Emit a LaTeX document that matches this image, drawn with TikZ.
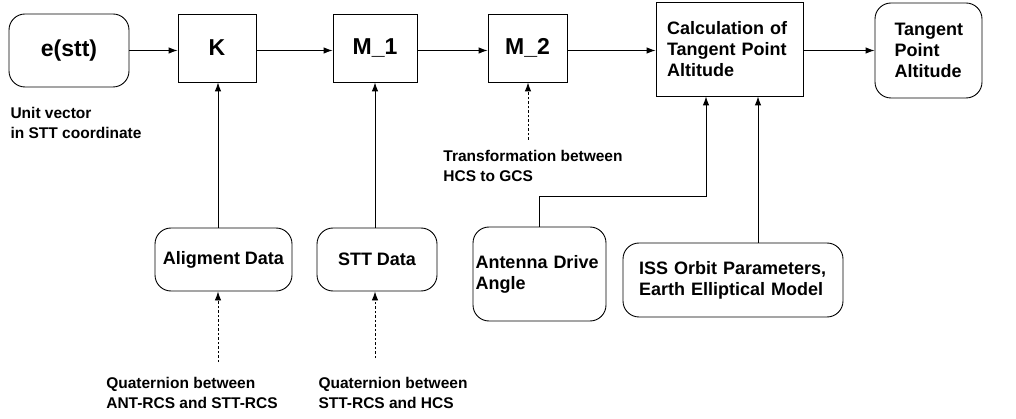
\documentclass[tikz,border=0pt]{standalone}
\usepackage{fontspec}
\setmainfont{Liberation Sans}
\usetikzlibrary{arrows.meta,calc}

\tikzset{
 blk/.style={draw,line width=0.9pt,inner sep=0pt,font=\fontsize{18}{21}\selectfont\bfseries},
 bigblk/.style={blk,font=\fontsize{23}{26}\selectfont\bfseries},
 rnd/.style={rounded corners=16pt},
 lbl/.style={align=left,inner sep=0pt,font=\fontsize{15.5}{20}\selectfont\bfseries},
 arr/.style={line width=0.9pt,-{Latex[length=9pt,width=6.5pt]}},
 darr/.style={arr,dash pattern=on 2.5pt off 2pt},
}

\begin{document}
\begin{tikzpicture}[x=1pt,y=-1pt]
 \useasboundingbox (0,0) rectangle (1016,419);
 % main chain
 \node[bigblk,rnd,minimum width=120pt,minimum height=73pt] (estt) at (69,50.5) {e(stt)};
 \node[bigblk,minimum width=78pt,minimum height=68pt] (k) at (217,48) {K};
 \node[bigblk,minimum width=84pt,minimum height=68pt] (m1) at (375,48) {M\_1};
 \node[bigblk,minimum width=79pt,minimum height=68pt] (m2) at (527.5,48) {M\_2};
 \node[blk,minimum width=147pt,minimum height=94pt,text width=125pt,align=left] (calc) at (729.5,49)
  {Calculation of\\Tangent Point\\Altitude};
 \node[blk,rnd,minimum width=107pt,minimum height=95pt,text width=68pt,align=left] (tpa) at (928.5,50.5)
  {Tangent\\Point\\Altitude};
 % inputs
 \node[blk,rnd,minimum width=137pt,minimum height=63pt] (ad) at (223.5,259.5) {Aligment Data};
 \node[blk,rnd,minimum width=120pt,minimum height=63pt] (sd) at (377,259.5) {STT Data};
 \node[blk,rnd,minimum width=133pt,minimum height=94pt,text width=128pt,align=left] (ant) at (539.5,274)
  {Antenna Drive\\Angle};
 \node[blk,rnd,minimum width=220pt,minimum height=74pt,text width=188pt,align=left] (iss) at (733,280)
  {ISS Orbit Parameters,\\Earth Elliptical Model};
 % labels
 \node[lbl] (uv) at (76,123) {Unit vector\\in STT coordinate};
 \node[lbl] (tr) at (533,166) {Transformation between\\HCS to GCS};
 \node[lbl] (qa) at (192,393) {Quaternion between\\ANT-RCS and STT-RCS};
 \node[lbl] (qs) at (393,393) {Quaternion between\\STT-RCS and HCS};
 \coordinate (qa-top) at (218,362);
 \coordinate (qs-top) at (375,358);
 \coordinate (tr-top) at (528,140);
 \coordinate (in1) at ([xshift=-23.5pt]calc.south);
 \coordinate (in2) at ([xshift=28.5pt]calc.south);

 \draw[arr] (estt.east) -- (estt.east -| k.west);
 \draw[arr] (k.east |- estt.east) -- (estt.east -| m1.west);
 \draw[arr] (m1.east |- estt.east) -- (estt.east -| m2.west);
 \draw[arr] (m2.east |- estt.east) -- (estt.east -| calc.west);
 \draw[arr] (calc.east |- estt.east) -- (estt.east -| tpa.west);

 \draw[arr] (qa-top |- ad.north) -- (qa-top |- k.south);
 \draw[arr] (m1.south |- sd.north) -- (m1.south);
 \draw[darr] (qa-top) -- (qa-top |- ad.south);
 \draw[darr] (qs-top) -- (qs-top |- sd.south);
 \draw[darr] (tr-top) -- (tr-top |- m2.south);
 \draw[arr] (ant.north) -- ++(0,-30) -| (in1);
 \draw[arr] (in2 |- iss.north) -- (in2);
\end{tikzpicture}
\end{document}
